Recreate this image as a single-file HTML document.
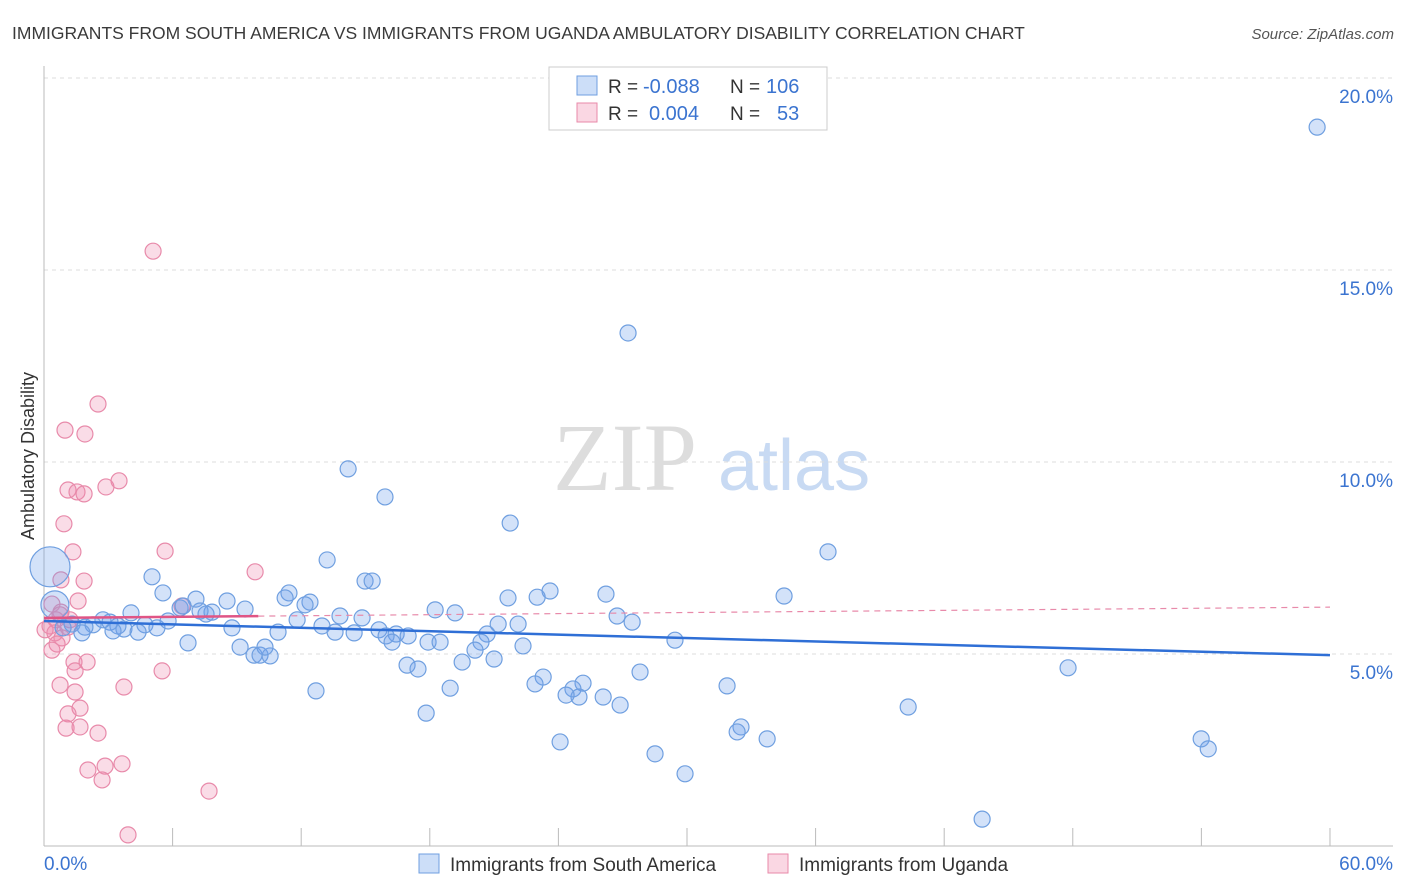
<!DOCTYPE html>
<html><head><meta charset="utf-8"><style>
body{margin:0;background:#fff;width:1406px;height:892px;overflow:hidden;font-family:"Liberation Sans",sans-serif}
svg{position:absolute;left:0;top:0}
</style></head><body>
<svg id="chart" width="1406" height="892" xmlns="http://www.w3.org/2000/svg">
<text x="12" y="39" font-size="17.5" fill="#3a3a3a">IMMIGRANTS FROM SOUTH AMERICA VS IMMIGRANTS FROM UGANDA AMBULATORY DISABILITY CORRELATION CHART</text>
<text x="1394" y="39" font-size="15" fill="#555" font-style="italic" text-anchor="end">Source: ZipAtlas.com</text>
<text transform="translate(34,456) rotate(-90)" font-size="18" fill="#333" text-anchor="middle">Ambulatory Disability</text>
<g><text x="553" y="490" font-size="96" fill="#ddd" font-family="Liberation Serif,serif">ZIP</text><text x="718" y="490" font-size="72" fill="#c8daf3">atlas</text></g>
<g id="grid"></g><g id="axes"></g><g id="marks"></g>
<g>
<rect x="549" y="67" width="278" height="63" fill="#fff" stroke="#ccc"/>
<rect x="577" y="76" width="20" height="19" fill="rgba(110,160,235,0.35)" stroke="#6f9fe0"/>
<rect x="577" y="103" width="20" height="19" fill="rgba(240,140,175,0.35)" stroke="#e88aaa"/>
<text x="608" y="93" font-size="19" fill="#333">R = </text><text x="643" y="93" font-size="20" fill="#3b74d0">-0.088</text>
<text x="730" y="93" font-size="19" fill="#333">N = </text><text x="766" y="93" font-size="20" fill="#3b74d0">106</text>
<text x="608" y="120" font-size="19" fill="#333">R = </text><text x="649" y="120" font-size="20" fill="#3b74d0">0.004</text>
<text x="730" y="120" font-size="19" fill="#333">N = </text><text x="777" y="120" font-size="20" fill="#3b74d0">53</text>
</g>
<g>
<rect x="419" y="854" width="20" height="19" fill="rgba(110,160,235,0.35)" stroke="#6f9fe0"/>
<text x="450" y="871" font-size="19" fill="#333">Immigrants from South America</text>
<rect x="768" y="854" width="20" height="19" fill="rgba(240,140,175,0.35)" stroke="#e88aaa"/>
<text x="799" y="871" font-size="19" fill="#333">Immigrants from Uganda</text>
</g>
</svg>
<script>
const blueX=[59.4,27.25,14.19,15.91,21.75,36.58,13.21,5.04,14.98,15.31,23.61,23.01,21.65,26.22,34.53,5.55,11.43,11.25,7.09,8.54,12.41,12.18,9.38,6.35,6.49,7.84,7.28,7.56,4.06,18.25,19.18,26.74,27.44,13.81,14.84,11.81,2.75,3.08,2.29,1.31,1.91,0.89,3.45,3.73,4.71,5.27,5.79,4.39,3.22,1.77,8.77,12.97,13.58,14.47,15.63,16.43,15.96,16.24,16.99,17.92,18.48,21.19,22.12,20.67,20.39,20.11,19.51,22.35,21.0,29.44,6.72,10.92,9.8,10.08,10.55,10.31,9.15,16.94,17.45,27.81,23.29,22.91,25.15,24.68,24.96,24.36,26.09,26.88,31.87,18.95,12.69,17.83,40.32,47.78,32.52,32.34,33.74,24.08,28.51,29.91,53.99,54.32,43.77,0.28,0.51];
const blueY=[18.72,13.36,9.82,9.09,8.41,7.66,7.45,7.01,6.9,6.9,6.64,6.48,6.46,6.56,6.51,6.59,6.59,6.46,6.43,6.38,6.35,6.28,6.17,6.2,6.25,6.09,6.12,6.04,6.07,6.15,6.07,5.99,5.83,5.99,5.94,5.89,5.89,5.83,5.76,5.78,5.7,5.68,5.73,5.65,5.76,5.68,5.86,5.57,5.6,5.55,5.68,5.73,5.57,5.55,5.63,5.52,5.47,5.31,5.47,5.31,5.31,5.78,5.78,5.52,5.31,5.1,4.79,5.21,4.87,5.36,5.29,5.57,4.97,4.97,4.95,5.18,5.18,4.71,4.61,4.53,4.4,4.22,4.24,4.09,3.88,3.93,3.88,3.67,4.17,4.11,4.04,3.46,3.62,4.64,3.1,2.97,2.79,2.71,2.4,1.88,2.79,2.53,0.7,7.27,6.28];
const blueSize=[8,8,8,8,8,8,8,8,8,8,8,8,8,8,8,8,8,8,8,8,8,8,8,8,8,8,8,8,8,8,8,8,8,8,8,8,8,8,8,8,8,8,8,8,8,8,8,8,8,8,8,8,8,8,8,8,8,8,8,8,8,8,8,8,8,8,8,8,8,8,8,8,8,8,8,8,8,8,8,8,8,8,8,8,8,8,8,8,8,8,8,8,8,8,8,8,8,8,8,8,8,8,8,20,14];
const pinkX=[5.09,2.52,0.98,1.91,3.5,1.12,1.54,1.87,2.89,0.93,5.65,1.35,9.85,0.79,1.87,1.59,6.44,0.37,0.79,0.56,0.28,0.51,1.12,0.84,0.61,0.37,1.4,2.01,5.51,1.45,0.75,3.73,1.45,1.68,1.12,1.03,1.68,2.52,2.05,2.85,3.64,2.71,7.7,3.92,0.75,1.21,0.05];
const pinkY=[15.49,11.51,10.83,10.73,9.51,9.27,9.22,9.17,9.35,8.39,7.68,7.66,7.14,6.93,6.9,6.38,6.25,6.3,6.09,5.89,5.73,5.55,5.7,5.42,5.26,5.1,4.79,4.79,4.56,4.56,4.19,4.14,4.01,3.59,3.44,3.07,3.1,2.94,1.98,2.08,2.14,1.72,1.43,0.29,6.02,5.89,5.63];
const blueTrend=[5.86,4.97];
const pinkTrend=[5.94,6.22];
const pinkSolidEnd=10;
const yTicks=[5,10,15,20];
const yTickLabels=["5.0%","10.0%","15.0%","20.0%"];
const xTicks=[0,6,12,18,24,30,36,42,48,54,60];
const NS="http://www.w3.org/2000/svg";
const X=v=>44+v*21.433, Y=v=>846-v*38.4;
function mk(p,t,a){const e=document.createElementNS(NS,t);for(const k in a)e.setAttribute(k,a[k]);p.appendChild(e);return e;}
const grid=document.getElementById('grid'),axes=document.getElementById('axes'),marks=document.getElementById('marks');
yTicks.forEach((t,i)=>{
 const l=mk(grid,'line',{x1:44,x2:1393,y1:Y(t),y2:Y(t),stroke:'#ddd','stroke-dasharray':'4,4'});
 
 
 const tx=mk(axes,'text',{x:1393,y:Y(t)+25,'font-size':19,fill:'#3b74d0','text-anchor':'end'});
 tx.textContent=yTickLabels[i];
 
 
});
let a=mk(axes,'line',{x1:44,x2:44,y1:66,y2:846,stroke:'#bbb'});


a=mk(axes,'line',{x1:44,x2:1393,y1:846,y2:846,stroke:'#bbb'});


xTicks.forEach(t=>{const l=mk(axes,'line',{x1:X(t),x2:X(t),y1:828,y2:846,stroke:'#bbb'});
 
 });
let t0=mk(axes,'text',{x:44,y:870,'font-size':19,fill:'#3b74d0'});t0.textContent=xTicks[0].toFixed(1)+'%';


let t1=mk(axes,'text',{x:1393,y:870,'font-size':19,fill:'#3b74d0','text-anchor':'end'});t1.textContent=xTicks[xTicks.length-1].toFixed(1)+'%';


pinkX.forEach((x,i)=>{const c=mk(marks,'circle',{cx:X(x),cy:Y(pinkY[i]),r:8,fill:'rgba(240,140,175,0.3)',stroke:'#e88aaa','stroke-width':1.2});
 
 });
blueX.forEach((x,i)=>{const c=mk(marks,'circle',{cx:X(x),cy:Y(blueY[i]),r:blueSize[i],fill:'rgba(110,160,235,0.3)',stroke:'#6f9fe0','stroke-width':1.2});
 
 });
let tl=mk(marks,'line',{x1:X(0),x2:X(60),y1:Y(blueTrend[0]),y2:Y(blueTrend[1]),stroke:'#2f6fd6','stroke-width':2.5});


const pm=pinkTrend[0]+(pinkTrend[1]-pinkTrend[0])*pinkSolidEnd/60;
tl=mk(marks,'line',{x1:X(0),x2:X(pinkSolidEnd),y1:Y(pinkTrend[0]),y2:Y(pm),stroke:'#e05585','stroke-width':2.5});


tl=mk(marks,'line',{x1:X(pinkSolidEnd),x2:X(60),y1:Y(pm),y2:Y(pinkTrend[1]),stroke:'#e88aaa','stroke-width':1.2,'stroke-dasharray':'6,5'});


</script>
</body></html>
